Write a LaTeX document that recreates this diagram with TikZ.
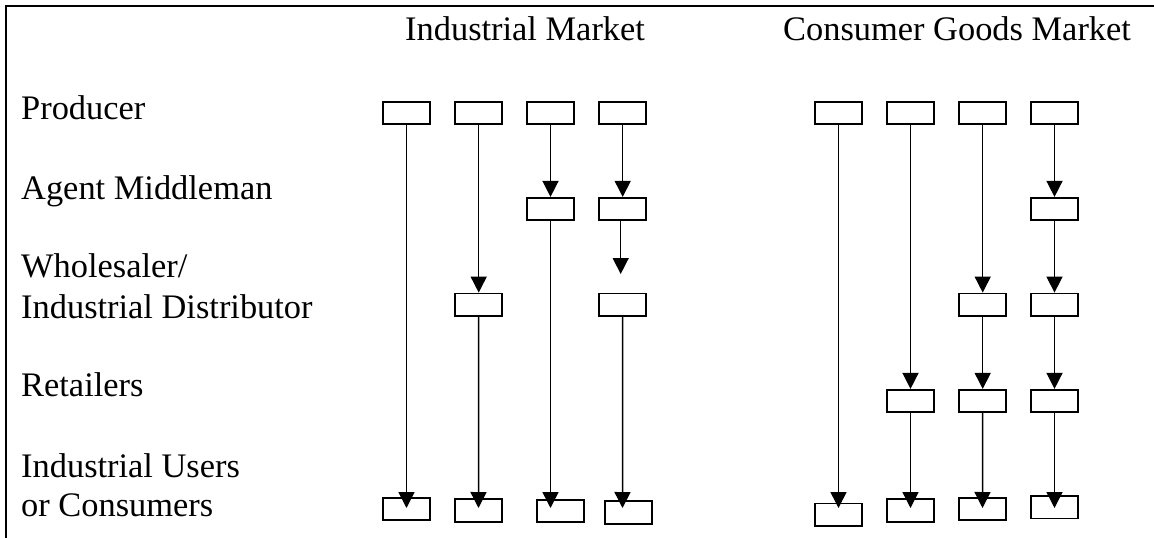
\documentclass[tikz,border=0pt]{standalone}
\usepackage{fontspec}
\setmainfont{Liberation Serif}
\usetikzlibrary{arrows.meta}
\begin{document}
\begin{tikzpicture}[x=1pt,y=-1pt,
  chbox/.style={draw,line width=1.7pt,rectangle,inner sep=0pt,
    minimum width=47pt,minimum height=22.5pt,fill=white},
  flow/.style={line width=1.5pt,-{Triangle[width=16pt,length=16pt]}},
  lbl/.style={anchor=base west,inner sep=0pt,font=\fontsize{34.4}{39}\selectfont}]
\useasboundingbox (0,0) rectangle (1154,538);
% frame
\draw[line width=2.4pt] (6,540) -- (6,6) -- (1156,6);

% headings
\node[lbl] (hind) at (405,40) {Industrial Market};
\node[lbl] (hcon) at (783,40) {Consumer Goods Market};

% level labels
\node[lbl] (lprod) at (21,119) {Producer};
\node[lbl] (lagent) at (21,199.3) {Agent Middleman};
\node[lbl] (lwh) at (21,277.3) {Wholesaler/};
\node[lbl] (lwhb) at (21,318.3) {Industrial Distributor};
\node[lbl] (lret) at (21,396.7) {Retailers};
\node[lbl] (luse) at (21,477.7) {Industrial Users};
\node[lbl] (luseb) at (21,516.7) {or Consumers};

% industrial market channels
\node[chbox] (ip1) at (406.5,113) {};
\node[chbox] (ip2) at (478.7,113) {};
\node[chbox] (ip3) at (550.5,113) {};
\node[chbox] (ip4) at (622.7,113) {};
\node[chbox] (ia3) at (550.5,209) {};
\node[chbox] (ia4) at (622.7,209) {};
\node[chbox] (iw2) at (478.7,304.7) {};
\node[chbox] (iw4) at (622.7,304.7) {};
\node[chbox] (iu1) at (406.5,509) {};
\node[chbox] (iu2) at (478.7,510.5) {};
\node[chbox] (iu3) at (560.2,511) {};
\node[chbox] (iu4) at (628.5,512.5) {};

\coordinate (it1) at (406.5,508);
\coordinate (it2) at (478.5,508);
\coordinate (it3) at (550.5,508);
\coordinate (it4) at (622.5,508);
\coordinate (ig4) at (620.7,274);

\draw[flow] (ip1.south) -- (it1);
\draw[flow] (ip2.south) -- (iw2.north);
\draw[flow] (iw2.south) -- (it2);
\draw[flow] (ip3.south) -- (ia3.north);
\draw[flow] (ia3.south) -- (it3);
\draw[flow] (ip4.south) -- (ia4.north);
\draw[flow] (ia4.south -| ig4) -- (ig4);
\draw[flow] (iw4.south) -- (it4);

% consumer goods market channels
\node[chbox] (cp1) at (838.5,113) {};
\node[chbox] (cp2) at (910.5,113) {};
\node[chbox] (cp3) at (982.7,113) {};
\node[chbox] (cp4) at (1054.5,113) {};
\node[chbox] (ca4) at (1054.5,209) {};
\node[chbox] (cw3) at (982.7,304.7) {};
\node[chbox] (cw4) at (1054.5,304.7) {};
\node[chbox] (cr2) at (910.5,401) {};
\node[chbox] (cr3) at (982.7,401) {};
\node[chbox] (cr4) at (1054.5,401) {};
\node[chbox] (cu1) at (838.5,514.7) {};
\node[chbox] (cu2) at (910.5,510.5) {};
\node[chbox] (cu3) at (982.7,509) {};
\node[chbox] (cu4) at (1054.5,507.2) {};

\coordinate (ct1) at (838.5,508);
\coordinate (ct2) at (910.5,508);
\coordinate (ct3) at (982.5,508);
\coordinate (ct4) at (1054.5,508);

\draw[flow] (cp1.south) -- (ct1);
\draw[flow] (cp2.south) -- (cr2.north);
\draw[flow] (cr2.south) -- (ct2);
\draw[flow] (cp3.south) -- (cw3.north);
\draw[flow] (cw3.south) -- (cr3.north);
\draw[flow] (cr3.south) -- (ct3);
\draw[flow] (cp4.south) -- (ca4.north);
\draw[flow] (ca4.south) -- (cw4.north);
\draw[flow] (cw4.south) -- (cr4.north);
\draw[flow] (cr4.south) -- (ct4);
\end{tikzpicture}
\end{document}
